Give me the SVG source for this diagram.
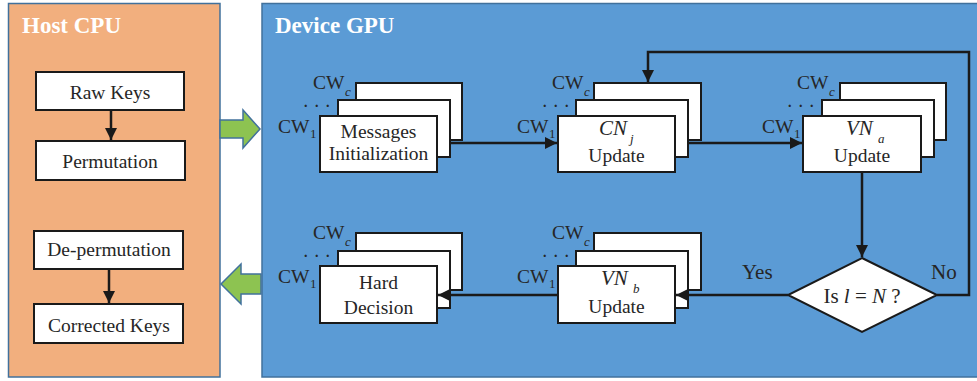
<svg xmlns="http://www.w3.org/2000/svg" width="977" height="381" viewBox="0 0 977 381">
<defs>
<style>
.panel{stroke:#41719C;stroke-width:1.5}
.box{fill:#fff;stroke:#1a1a1a;stroke-width:2}
.t{font-family:"Liberation Serif","Times New Roman",serif;fill:#262626}
.lbl{font-size:19.5px;text-anchor:middle}
.cw{font-size:19.5px}
.dots{font-size:14px;letter-spacing:7.5px;font-weight:bold}
.q{font-size:21px}
.sub{font-size:13px;font-style:italic}
.sub1{font-size:13px}
.it{font-style:italic}
.title{font-family:"Liberation Serif","Times New Roman",serif;font-weight:bold;font-size:23px;fill:#fff}
.ln{fill:none;stroke:#1a1a1a;stroke-width:2.5}
.big{fill:#8DC351;stroke:#41719C;stroke-width:1.5}
</style>
<marker id="ah" viewBox="0 0 10 10" refX="10" refY="5" markerWidth="5" markerHeight="5" orient="auto" markerUnits="strokeWidth">
<path d="M0,0 L10,5 L0,10 z" fill="#1a1a1a"/>
</marker>
</defs>

<g id="host-panel">
<rect x="8.5" y="3.5" width="211.5" height="373.5" fill="#F2AF7E" class="panel"/>
<text x="22" y="33" class="title">Host CPU</text>
</g>
<g id="device-panel">
<rect x="262" y="3.5" width="716" height="373.5" fill="#5B9BD5" class="panel"/>
<text x="275" y="33" class="title">Device GPU</text>
</g>

<g id="to-gpu">
<path d="M220,120 L243,120 L243,110 L260,129 L243,148 L243,138 L220,138 z" class="big"/>
</g>
<g id="to-cpu">
<path d="M261,274 L241,274 L241,264 L221,284 L241,304 L241,294 L261,294 z" class="big"/>
</g>

<g id="raw-keys">
<rect x="36" y="72" width="148" height="38" class="box"/>
<text x="110" y="99" class="t lbl">Raw Keys</text>
</g>
<g id="permutation">
<rect x="36" y="141" width="149" height="39" class="box"/>
<text x="110" y="168" class="t lbl">Permutation</text>
</g>
<g id="de-permutation">
<rect x="34" y="231" width="149" height="38" class="box"/>
<text x="109" y="256" class="t lbl">De-permutation</text>
</g>
<g id="corrected-keys">
<rect x="34" y="304" width="149" height="39" class="box"/>
<text x="109" y="332" class="t lbl">Corrected Keys</text>
</g>

<g id="msg-init">
<rect x="356" y="83" width="106" height="57" class="box"/>
<rect x="338" y="100" width="112" height="57" class="box"/>
<rect x="320" y="116" width="117" height="56" class="box"/>
<text x="313" y="89" class="t cw">CW</text><text x="345" y="96" class="t sub">c</text>
<text x="304" y="107" class="t dots">...</text>
<text x="278" y="133" class="t cw">CW</text><text x="310" y="138" class="t sub1">1</text>
<text x="378.5" y="138" class="t lbl">Messages</text>
<text x="378.5" y="160" class="t lbl">Initialization</text>
</g>

<g id="cn-update">
<rect x="594" y="83" width="107" height="57" class="box"/>
<rect x="576" y="100" width="112" height="57" class="box"/>
<rect x="558" y="116" width="117" height="56" class="box"/>
<text x="552" y="89" class="t cw">CW</text><text x="584" y="96" class="t sub">c</text>
<text x="543" y="107" class="t dots">...</text>
<text x="517" y="133" class="t cw">CW</text><text x="549" y="138" class="t sub1">1</text>
<text x="599" y="135" class="t q it">CN</text><text x="630" y="143" class="t sub">j</text>
<text x="616.5" y="162" class="t lbl">Update</text>
</g>

<g id="vna-update">
<rect x="840" y="83" width="106" height="57" class="box"/>
<rect x="822" y="100" width="112" height="57" class="box"/>
<rect x="803" y="116" width="118" height="56" class="box"/>
<text x="797" y="89" class="t cw">CW</text><text x="829" y="96" class="t sub">c</text>
<text x="788" y="107" class="t dots">...</text>
<text x="762" y="133" class="t cw">CW</text><text x="794" y="138" class="t sub1">1</text>
<text x="846" y="135" class="t q it">VN</text><text x="878" y="143" class="t sub">a</text>
<text x="862" y="162" class="t lbl">Update</text>
</g>

<g id="decision">
<path d="M862,258 L937,295 L862,332 L788,295 z" class="box"/>
<text x="862" y="303" class="t q" text-anchor="middle">Is <tspan class="it">l</tspan> = <tspan class="it">N</tspan> ?</text>
</g>

<g id="vnb-update">
<rect x="594" y="233" width="107" height="57" class="box"/>
<rect x="576" y="251" width="112" height="57" class="box"/>
<rect x="558" y="266" width="117" height="57" class="box"/>
<text x="552" y="239" class="t cw">CW</text><text x="584" y="246" class="t sub">c</text>
<text x="543" y="257" class="t dots">...</text>
<text x="517" y="283" class="t cw">CW</text><text x="549" y="288" class="t sub1">1</text>
<text x="601" y="285" class="t q it">VN</text><text x="633" y="293" class="t sub">b</text>
<text x="616.5" y="313" class="t lbl">Update</text>
</g>

<g id="hard-decision">
<rect x="356" y="233" width="106" height="57" class="box"/>
<rect x="338" y="251" width="112" height="57" class="box"/>
<rect x="320" y="266" width="117" height="57" class="box"/>
<text x="313" y="239" class="t cw">CW</text><text x="345" y="246" class="t sub">c</text>
<text x="304" y="257" class="t dots">...</text>
<text x="278" y="283" class="t cw">CW</text><text x="310" y="288" class="t sub1">1</text>
<text x="378.5" y="289" class="t lbl">Hard</text>
<text x="378.5" y="314" class="t lbl">Decision</text>
</g>

<g id="connectors">
<line x1="111" y1="110" x2="111" y2="140" class="ln" marker-end="url(#ah)"/>
<line x1="109" y1="269" x2="109" y2="303" class="ln" marker-end="url(#ah)"/>
<line x1="450" y1="143" x2="557" y2="143" class="ln" marker-end="url(#ah)"/>
<line x1="688" y1="143" x2="802" y2="143" class="ln" marker-end="url(#ah)"/>
<line x1="862" y1="172" x2="862" y2="257" class="ln" marker-end="url(#ah)"/>
<polyline points="937,295 969,295 969,52 648,52 648,82" class="ln" marker-end="url(#ah)"/>
<line x1="788" y1="295" x2="676" y2="295" class="ln" marker-end="url(#ah)"/>
<line x1="558" y1="295" x2="438" y2="295" class="ln" marker-end="url(#ah)"/>
<text x="742" y="279" class="t q">Yes</text>
<text x="931" y="279" class="t q">No</text>
</g>
</svg>
